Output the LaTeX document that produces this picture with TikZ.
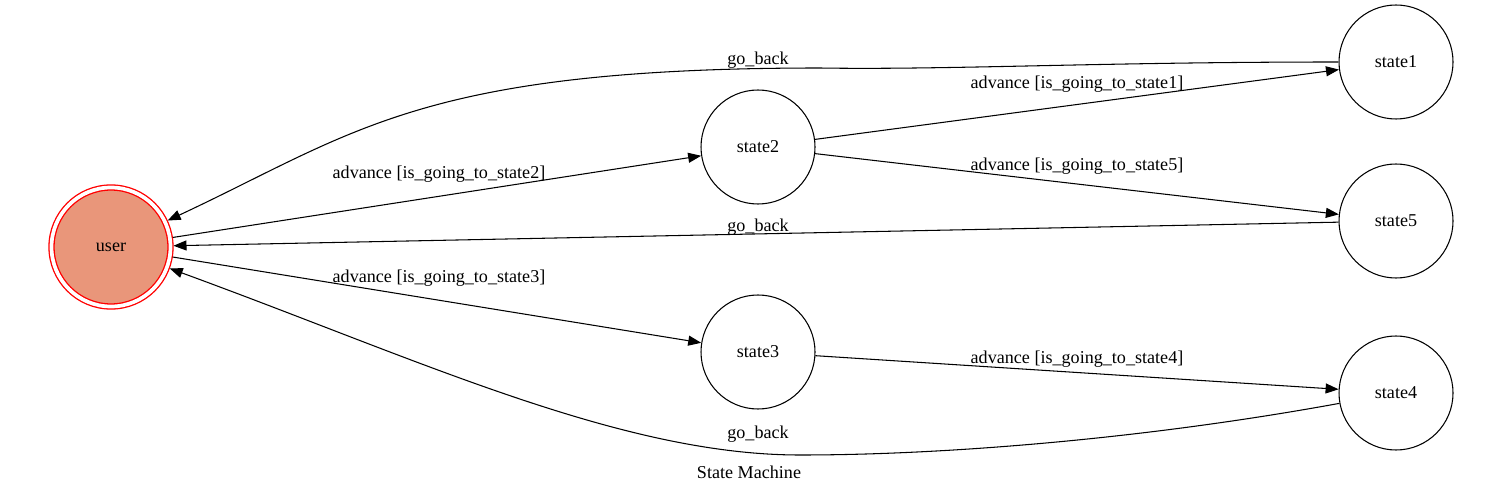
\documentclass[tikz,border=0pt]{standalone}
\usepackage{fontspec}
\setmainfont{Liberation Serif}
\usetikzlibrary{arrows.meta}
\definecolor{salmon}{HTML}{E9967A}

\begin{document}
\begin{tikzpicture}[
          font=\fontsize{10.3}{12}\selectfont, line width=0.6pt,
          >={Triangle[length=7.4pt,width=5.7pt]},
          whitecircle/.style={circle, draw=black, minimum size=2.28cm},
          salmoncircle/.style={circle, draw=red, fill=salmon, double=white,
            line width=0.75pt, double distance=0.074cm, minimum size=2.38cm,
            outer sep=0.06cm}]

        \useasboundingbox (0,0) rectangle (30,9.84);

        \node[salmoncircle] (user)   at (2.22,4.90)  {user};
        \node[whitecircle]  (state2) at (15.16,6.90) {state2};
        \node[whitecircle]  (state3) at (15.16,2.80) {state3};
        \node[whitecircle]  (state1) at (27.92,8.60) {state1};
        \node[whitecircle]  (state5) at (27.92,5.42) {state5};
        \node[whitecircle]  (state4) at (27.92,1.98) {state4};

        \draw[->] (user)   -- (state2);
        \draw[->] (user)   -- (state3);
        \draw[->] (state2) -- (state1);
        \draw[->] (state2) -- (state5);
        \draw[->] (state3) -- (state4);
        \draw[->] (state5) -- (user);

        \draw[->] (state1) .. controls (22.0,8.60) and (19.0,8.44) .. (16.4,8.48)
                           .. controls (8.4,8.48) and (7.1,7.18) .. (user);
        \draw[->] (state4) .. controls (23.0,1.08) and (19.0,0.74) .. (16.0,0.74)
                           .. controls (12.4,0.74) and (8.4,2.64) .. (user);

        \node (l12) at (8.78,6.36)  {advance [is\_going\_to\_state2]};
        \node (l13) at (8.78,4.28)  {advance [is\_going\_to\_state3]};
        \node (l21) at (21.54,8.16) {advance [is\_going\_to\_state1]};
        \node (l25) at (21.54,6.52) {advance [is\_going\_to\_state5]};
        \node (l34) at (21.54,2.66) {advance [is\_going\_to\_state4]};
        \node (b1)  at (15.16,8.64) {go\_back};
        \node (b5)  at (15.16,5.30) {go\_back};
        \node (b4)  at (15.16,1.16) {go\_back};

        \node (title) at (14.98,0.40) {State Machine};

      \end{tikzpicture}
\end{document}
